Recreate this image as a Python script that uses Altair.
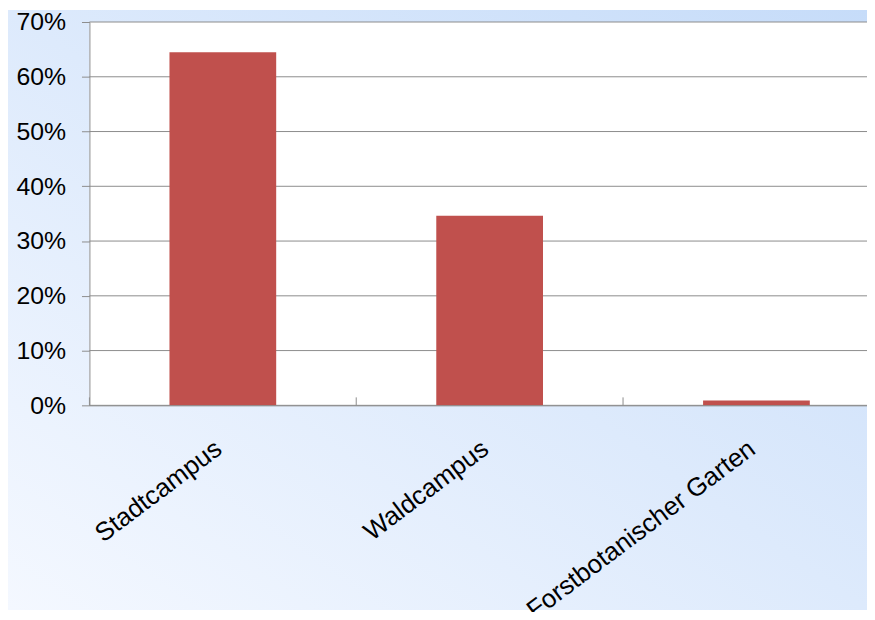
import altair as alt
import pandas as pd

categories = ["Stadtcampus", "Waldcampus", "Forstbotanischer Garten"]
shares = [0.645, 0.346, 0.009]
tick_values = [0, 0.1, 0.2, 0.3, 0.4, 0.5, 0.6, 0.7]

W, H = 783, 386
RANGE_W = 806
PAD_L, PAD_T, PAD_B = 82, 12, 206
FULL_H = H + PAD_T + PAD_B

GRAY = "#8c8c8c"
FONT = "Liberation Sans"

bars_df = pd.DataFrame({"cat": categories, "share": shares})
grid_df = pd.DataFrame({"v": tick_values})
one = pd.DataFrame({"k": [0]})

yscale = alt.Scale(domain=[0, 0.7], nice=False, zero=True)
xscale = alt.Scale(domain=categories, range=[0, RANGE_W], paddingInner=0.6, paddingOuter=0.3)
xsep_scale = alt.Scale(domain=categories, range=[0, RANGE_W], paddingInner=0, paddingOuter=0)

yaxis = alt.Axis(values=tick_values, format=".0%", grid=False,
                 domainColor=GRAY, domainWidth=1, tickColor=GRAY, tickSize=8,
                 labelFont=FONT, labelFontSize=25, labelColor="black",
                 labelPadding=16, zindex=1)

bg = alt.Chart(one).mark_rect(
    fill=alt.LinearGradient(
        gradient="linear", x1=0, y1=1, x2=1, y2=0,
        stops=[alt.GradientStop(offset=0, color="#f4f8ff"),
               alt.GradientStop(offset=1, color="#c6dcf9")],
    )
).encode(x=alt.value(-PAD_L), x2=alt.value(W), y=alt.value(-PAD_T), y2=alt.value(FULL_H - PAD_T))

plot_bg = alt.Chart(one).mark_rect(fill="white").encode(
    x=alt.value(0), x2=alt.value(W), y=alt.value(0), y2=alt.value(H)
)

grid = alt.Chart(grid_df).mark_rule(color=GRAY, strokeWidth=1).encode(
    y=alt.Y("v:Q", scale=yscale, title=None, axis=yaxis),
    x=alt.value(0), x2=alt.value(W),
)

bars = alt.Chart(bars_df).mark_bar(color="#C0504D").encode(
    x=alt.X("cat:N", scale=xscale, sort=categories, title=None,
            axis=alt.Axis(domainColor=GRAY, domainWidth=1, ticks=False,
                          labelAngle=-37, labelAlign="right", labelBaseline="top",
                          labelFont=FONT, labelFontSize=26, labelColor="black",
                          labelPadding=30, labelOffset=-12, labelLimit=400, zindex=1)),
    y=alt.Y("share:Q", scale=yscale, title=None, axis=yaxis),
)

sep = alt.Chart(bars_df).mark_rule(color=GRAY, strokeWidth=1).encode(
    x=alt.X("cat:N", scale=xsep_scale, sort=categories, bandPosition=0, axis=None),
    y=alt.value(H - 8), y2=alt.value(H),
)

chart = alt.layer(bg, plot_bg, grid, bars, sep).resolve_scale(x="independent").properties(
    width=W, height=H,
    autosize=alt.AutoSizeParams(type="none"),
    padding={"left": PAD_L, "top": PAD_T, "right": 0, "bottom": PAD_B},
).configure_view(strokeWidth=0)

chart.save("out.html", embed_options={"renderer": "svg", "actions": False})
